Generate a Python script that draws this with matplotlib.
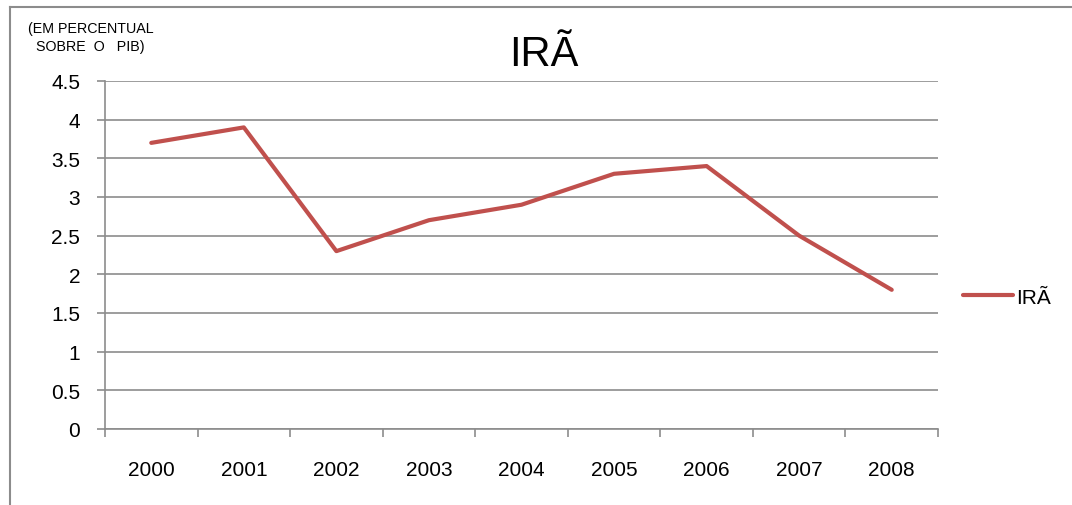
import matplotlib.pyplot as plt
import numpy as np

plt.rcParams['font.family'] = ['Liberation Sans', 'DejaVu Sans']

anos = ['2000', '2001', '2002', '2003', '2004', '2005', '2006', '2007', '2008']
ira = [3.7, 3.9, 2.3, 2.7, 2.9, 3.3, 3.4, 2.5, 1.8]
yticks = [0, 0.5, 1, 1.5, 2, 2.5, 3, 3.5, 4, 4.5]
ylabels = ['0', '0.5', '1', '1.5', '2', '2.5', '3', '3.5', '4', '4.5']

W, H = 1072, 506
fig = plt.figure(figsize=(W / 100, H / 100), dpi=100)

# plot area in pixel coordinates
left, right, top, bottom = 105, 938, 82, 430
ax = fig.add_axes([left / W, 1 - bottom / H, (right - left) / W, (bottom - top) / H])

x = np.arange(len(anos))
line, = ax.plot(x, ira, color='#C0504D', lw=3.0, solid_capstyle='round',
                solid_joinstyle='round', label='IRÃ', zorder=3)

ax.set_xlim(-0.5, len(anos) - 0.5)
ax.set_ylim(0, 4.5)
ax.set_yticks(yticks)
ax.set_yticklabels(ylabels, fontsize=15)
ax.yaxis.grid(True, color='#8c8c8c', lw=1.2)
ax.tick_params(axis='y', length=6, color='#8c8c8c', width=1.2, pad=12)

ax.set_xticks(x)
ax.set_xticklabels(anos, fontsize=15)
ax.tick_params(axis='x', length=0, pad=22)
ax.set_xticks(np.arange(-0.5, len(anos)), minor=True)
ax.tick_params(axis='x', which='minor', length=6, color='#8c8c8c', width=1.2)

for s in ['top', 'right']:
    ax.spines[s].set_visible(False)
for s in ['left', 'bottom']:
    ax.spines[s].set_color('#8c8c8c')
    ax.spines[s].set_linewidth(1.2)

fig.text(544 / W, 1 - 55 / H, 'IRÃ', fontsize=30, ha='center', va='center')
fig.text(28 / W, 1 - 38 / H, '(EM PERCENTUAL\n  SOBRE  O   PIB)', fontsize=10.3,
         ha='left', va='center', linespacing=1.35)

fig.legend(handles=[line], loc='center left', bbox_to_anchor=(944 / W, 1 - 298 / H),
           frameon=False, fontsize=15, handlelength=2.4, handletextpad=0.15)

# outer chart border (clipped by image edge at right and bottom)
fig.add_artist(plt.Line2D([10 / W, 10 / W], [0, 1 - 8 / H], color='#8c8c8c', lw=1.5))
fig.add_artist(plt.Line2D([10 / W, 1], [1 - 8 / H, 1 - 8 / H], color='#8c8c8c', lw=1.5))

fig.savefig('out.png', dpi=100)
